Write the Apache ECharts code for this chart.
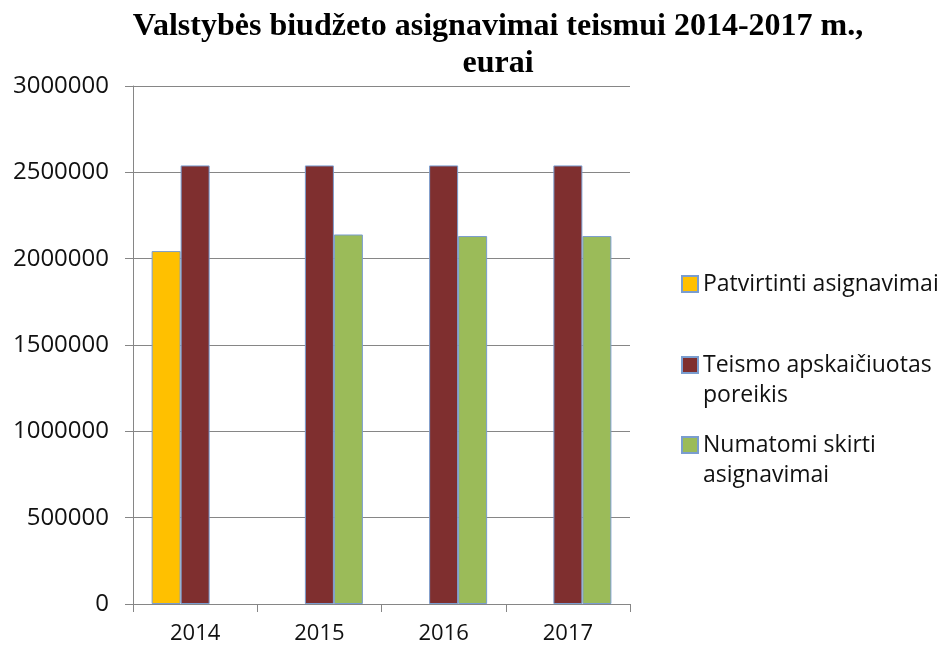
<!DOCTYPE html>
<html>
<head>
<meta charset="utf-8">
<script src="https://cdn.jsdelivr.net/npm/echarts@6/dist/echarts.min.js"></script>
<style>html,body{margin:0;padding:0;background:#fff}#c{width:946px;height:647px}</style>
</head>
<body>
<div id="c"></div>
<script>
const categories = ['2014', '2015', '2016', '2017'];
const seriesNames = ['Patvirtinti asignavimai', 'Teismo apskaičiuotas\nporeikis', 'Numatomi skirti\nasignavimai'];
const patvirtinti = [2044000, null, null, null];
const poreikis = [2540000, 2540000, 2540000, 2540000];
const numatomi = [null, 2140000, 2131000, 2131000];
const yTicks = [0, 500000, 1000000, 1500000, 2000000, 2500000, 3000000];
const titleText = 'Valstybės biudžeto asignavimai teismui 2014-2017 m.,\neurai';

const colors = ['#FFC000', '#7F2F2F', '#9BBB59'];
const border = '#7A9DCF';
const font = 'Open Sans';

const chart = echarts.init(document.getElementById('c'));
function legendFor(name, top) {
  return {
    data: [name], left: 681, top: top, orient: 'vertical', padding: 0,
    itemWidth: 16, itemHeight: 16, itemGap: 0, selectedMode: false,
    icon: 'rect',
    formatter: function (n) { return n.indexOf('\n') >= 0 ? ' \n' + n : n; },
    textStyle: { fontFamily: font, fontSize: 23, color: '#111', lineHeight: 30 }
  };
}
chart.setOption({
  animation: false,
  title: {
    text: titleText, left: 493, top: 3, textAlign: 'center',
    textStyle: { fontFamily: 'Liberation Serif', fontWeight: 'bold', fontSize: 32, lineHeight: 37, color: '#000' }
  },
  legend: [
    legendFor(seriesNames[0], 269),
    legendFor(seriesNames[1], 320),
    legendFor(seriesNames[2], 400)
  ],
  grid: { left: 133, right: 316, top: 86, bottom: 43 },
  xAxis: {
    type: 'category', data: categories, boundaryGap: true,
    axisLine: { lineStyle: { color: '#868686', width: 1 } },
    axisTick: { show: true, length: 8, alignWithLabel: false, lineStyle: { color: '#868686' } },
    axisLabel: { fontFamily: font, fontSize: 22, color: '#111', margin: 19 }
  },
  yAxis: {
    type: 'value', min: yTicks[0], max: yTicks[yTicks.length - 1], interval: yTicks[1] - yTicks[0],
    axisLine: { show: true, lineStyle: { color: '#868686', width: 1 } },
    axisTick: { show: true, length: 8, inside: false, lineStyle: { color: '#868686' } },
    axisLabel: { fontFamily: font, fontSize: 24, color: '#111', margin: 24,
      formatter: function (v) { return String(v); } },
    splitLine: { show: true, lineStyle: { color: '#868686', width: 1 } }
  },
  series: [
    { name: seriesNames[0], type: 'bar', data: patvirtinti, barWidth: 29, barGap: '0%',
      itemStyle: { color: colors[0], borderColor: border, borderWidth: 1 } },
    { name: seriesNames[1], type: 'bar', data: poreikis, barWidth: 29, barGap: '0%',
      itemStyle: { color: colors[1], borderColor: border, borderWidth: 1 } },
    { name: seriesNames[2], type: 'bar', data: numatomi, barWidth: 29, barGap: '0%',
      itemStyle: { color: colors[2], borderColor: border, borderWidth: 1 } }
  ]
});
</script>
</body>
</html>
